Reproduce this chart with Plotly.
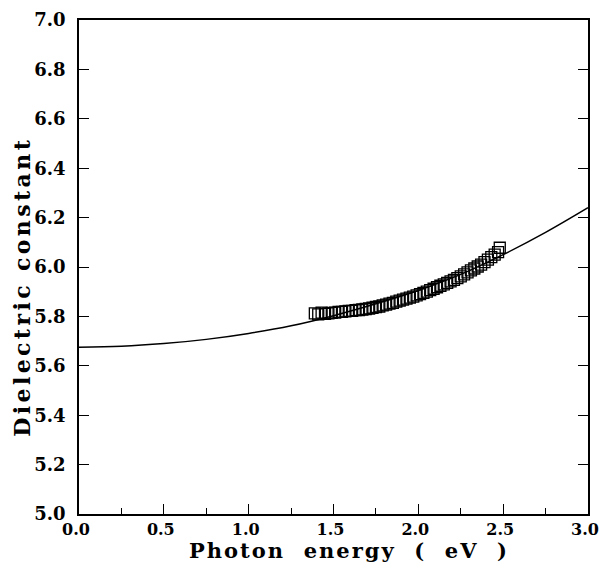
import plotly.graph_objects as go

# fitted curve
e_curve = [0.0, 0.25, 0.5, 0.75, 1.0, 1.25, 1.5, 1.75, 2.0, 2.25, 2.5, 2.75, 3.0]
eps_curve = [5.675, 5.679, 5.690, 5.707, 5.731, 5.762, 5.803, 5.851, 5.905, 5.970,
             6.050, 6.140, 6.240]

# measured points (open squares)
e_data = [1.39, 1.41, 1.43, 1.45, 1.47, 1.49, 1.51, 1.53, 1.55, 1.57, 1.59, 1.61,
          1.63, 1.65, 1.67, 1.69, 1.71, 1.73, 1.75, 1.77, 1.79, 1.81, 1.83, 1.85,
          1.87, 1.89, 1.91, 1.93, 1.95, 1.97, 1.99, 2.01, 2.03, 2.05, 2.07, 2.09,
          2.11, 2.13, 2.15, 2.17, 2.19, 2.21, 2.23, 2.25, 2.27, 2.29, 2.31, 2.33,
          2.35, 2.37, 2.39, 2.41, 2.43, 2.45, 2.47, 2.48]
eps_data = [5.812, 5.808, 5.815, 5.810, 5.812, 5.814, 5.815, 5.818, 5.818, 5.820,
            5.822, 5.822, 5.825, 5.826, 5.828, 5.830, 5.832, 5.835, 5.838, 5.840,
            5.845, 5.848, 5.852, 5.855, 5.860, 5.864, 5.868, 5.872, 5.876, 5.880,
            5.885, 5.890, 5.895, 5.900, 5.906, 5.912, 5.918, 5.924, 5.930, 5.936,
            5.942, 5.948, 5.955, 5.962, 5.970, 5.978, 5.986, 5.994, 6.002, 6.010,
            6.020, 6.030, 6.040, 6.050, 6.060, 6.078]

titulo_x = 'Photon  energy  (  eV  )'
titulo_y = 'Dielectric constant'
fuente = 'DejaVu Serif'

fig = go.Figure()
fig.add_trace(go.Scatter(x=e_curve, y=eps_curve, mode='lines', line_shape='spline',
                         line=dict(color='black', width=1.5), showlegend=False))
fig.add_trace(go.Scatter(x=e_data, y=eps_data, mode='markers', showlegend=False,
                         marker=dict(symbol='square-open', size=11, color='black',
                                     line=dict(width=1.3, color='black'))))

fig.update_layout(
    width=599, height=563,
    margin=dict(l=79, r=11, t=20, b=49, autoexpand=False),
    plot_bgcolor='white', paper_bgcolor='white',
    font=dict(family=fuente, color='black', size=16, weight='bold'),
)
fig.update_xaxes(range=[0, 3.0], tickvals=[0, 0.5, 1.0, 1.5, 2.0, 2.5, 3.0],
                 ticktext=['0.0', '0.5', '1.0', '1.5', '2.0', '2.5', '3.0'],
                 ticks='inside', ticklen=10, tickwidth=1.2, tickcolor='black',
                 minor=dict(tickvals=[0.25, 0.75, 1.25, 1.75, 2.25, 2.75],
                            ticks='inside', ticklen=6, tickcolor='black'),
                 showline=True, linecolor='black', linewidth=1.5, mirror=True,
                 showgrid=False, zeroline=False, ticklabelstandoff=0,
                 ticklabelshift=-3, ticklabeloverflow='allow', automargin=False)
fig.update_yaxes(range=[5.0, 7.0], dtick=0.2, tickformat='.1f',
                 ticks='inside', ticklen=10, tickwidth=1.2, tickcolor='black',
                 showline=True, linecolor='black', linewidth=1.5, mirror='ticks',
                 showgrid=False, zeroline=False, automargin=False,
                 ticklabelstandoff=8, tickfont=dict(size=18))

# titulos de ejes con espaciado entre letras
fig.add_annotation(text='<span style="letter-spacing:2px">' + titulo_x + '</span>',
                   xref='paper', yref='paper', x=0.53, y=-0.074,
                   xanchor='center', yanchor='middle', showarrow=False,
                   font=dict(size=21))
fig.add_annotation(text='<span style="letter-spacing:3.4px">' + titulo_y + '</span>',
                   xref='paper', yref='paper', x=-0.112, y=0.46,
                   xanchor='center', yanchor='middle', showarrow=False,
                   textangle=-90, font=dict(size=22))

# sin margen del body para que la figura ocupe la ventana
fig.write_html('out.html', config=dict(displayModeBar=False),
               post_script="document.body.style.margin='0';"
                           "document.body.style.overflow='hidden';")
